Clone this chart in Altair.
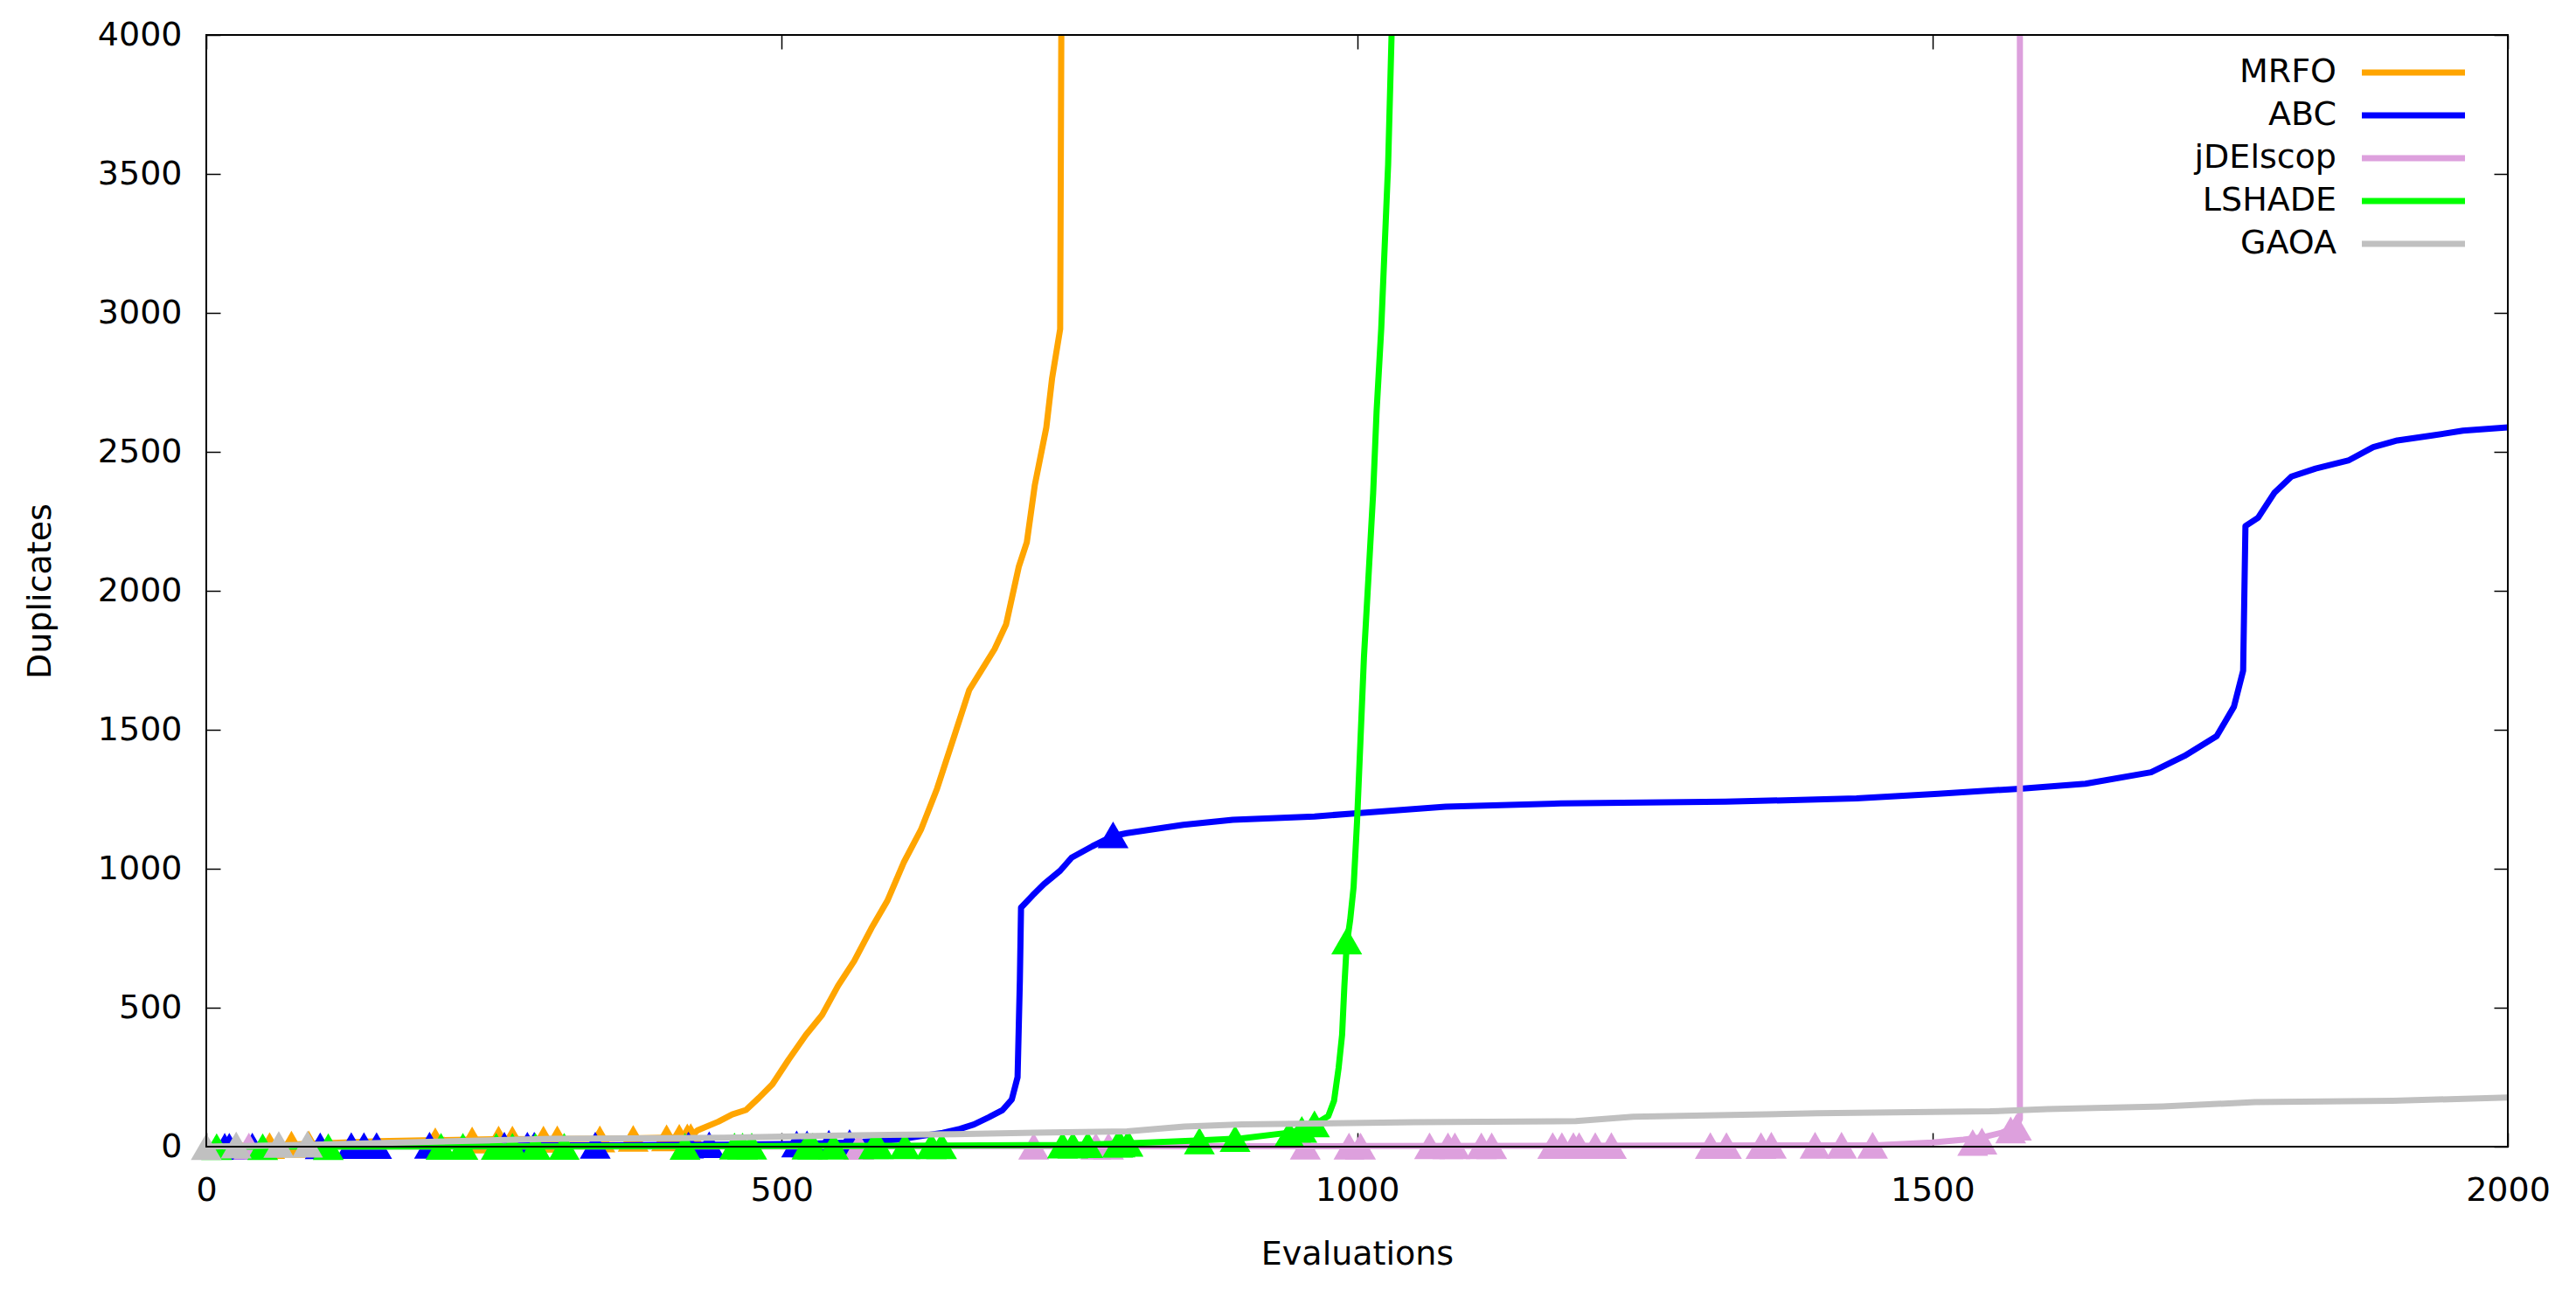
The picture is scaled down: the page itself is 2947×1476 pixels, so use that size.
import altair as alt
import pandas as pd

# ---------------- data ----------------
series_names = ["MRFO", "ABC", "jDElscop", "LSHADE", "GAOA"]
series_colors = ["#FFA500", "#0000FF", "#DDA0DD", "#00FF00", "#C0C0C0"]

x_ticks = [0, 500, 1000, 1500, 2000]
y_ticks = [0, 500, 1000, 1500, 2000, 2500, 3000, 3500, 4000]
x_domain = [0, 2000]
y_domain = [0, 4000]

# MRFO line
mrfo_x = [0, 20, 55, 90, 150, 250, 350, 400, 420, 427, 445, 457, 469, 480, 492, 506, 521, 535,
          549, 563, 578, 592, 606, 621, 635, 649, 663, 685, 695, 706, 713, 720, 730, 735, 742, 743]
mrfo_y = [0, 3, 5, 10, 20, 27, 28, 32, 35, 59, 90, 116, 132, 175, 225, 313, 402, 473,
          579, 668, 786, 886, 1022, 1140, 1288, 1465, 1643, 1790, 1879, 2086, 2174, 2381, 2588, 2765, 2942, 4000]
mrfo_px = [55, 74, 89, 199, 231, 254, 266, 293, 305, 342, 371, 400, 411, 418, 421]
mrfo_py = [4, 9, 10, 21, 24, 27, 27, 27, 28, 28, 30, 32, 34, 35, 36]

# ABC line
abc_x = [0, 100, 200, 350, 450, 520, 560, 600, 640, 655, 667, 680, 692, 700, 705, 707, 708, 718, 728,
         742, 752, 770, 788, 800, 849, 892, 963, 1000, 1077, 1177, 1320, 1434, 1505, 1576, 1633, 1690,
         1719, 1747, 1762, 1770, 1772, 1783, 1797, 1812, 1833, 1862, 1883, 1904, 1933, 1961, 2000]
abc_y = [0, 3, 5, 5, 7, 10, 15, 25, 50, 64, 80, 106, 132, 170, 250, 600, 860, 904, 945,
         993, 1040, 1081, 1118, 1128, 1158, 1176, 1188, 1200, 1223, 1235, 1241, 1253, 1270, 1288, 1306, 1347,
         1406, 1477, 1583, 1713, 2233, 2263, 2352, 2411, 2440, 2470, 2517, 2541, 2558, 2576, 2588]
abc_px = [16, 20, 40, 99, 126, 137, 148, 194, 259, 279, 285, 338, 419, 437, 513, 522, 541, 559, 788]
abc_py = [1, 1, 2, 3, 4, 4, 4, 5, 5, 5, 5, 5, 6, 7, 10, 10, 12, 15, 1122]

# jDElscop line
jde_x = [0, 500, 1000, 1450, 1500, 1527, 1545, 1560, 1568, 1574, 1576, 1576]
jde_y = [0, 1, 2, 5, 15, 25, 35, 50, 65, 80, 100, 4000]
jde_px = [37, 567, 719, 773, 784, 955, 993, 1003, 1063, 1079, 1085, 1108, 1117, 1170, 1178, 1188,
          1193, 1207, 1221, 1307, 1321, 1351, 1360, 1398, 1421, 1448, 1535, 1543, 1568, 1573]
jde_py = [2, 1, 2, 2, 2, 2, 2, 2, 3, 3, 3, 3, 3, 4, 4, 4,
          4, 4, 4, 4, 4, 4, 5, 5, 5, 5, 15, 20, 60, 70]

# LSHADE line
lsh_x = [0, 300, 600, 750, 800, 860, 900, 940, 955, 965, 975, 980, 984, 987, 989, 991, 994, 997,
         1000, 1003, 1006, 1010, 1014, 1017, 1021, 1024, 1027, 1030]
lsh_y = [0, 1, 3, 6, 12, 22, 30, 50, 65, 85, 110, 165, 284, 402, 579, 727, 815, 934,
         1170, 1465, 1761, 2056, 2352, 2647, 2942, 3238, 3533, 4000]
lsh_px = [9, 49, 106, 204, 223, 252, 266, 286, 311, 416, 459, 466, 474, 522, 527, 545, 580, 584,
          607, 630, 639, 744, 753, 766, 792, 794, 801, 863, 894, 941, 952, 963, 991]
lsh_py = [0, 0, 0, 1, 1, 1, 1, 1, 1, 1, 2, 2, 2, 2, 2, 2, 3, 3,
          3, 3, 3, 6, 6, 7, 9, 10, 12, 21, 29, 45, 62, 82, 740]

# GAOA line
gaoa_x = [0, 100, 200, 300, 450, 550, 650, 720, 800, 850, 900, 1050, 1190, 1240, 1400, 1550, 1600,
          1700, 1780, 1900, 2000]
gaoa_y = [0, 8, 18, 28, 32, 40, 45, 50, 55, 72, 80, 88, 92, 108, 120, 127, 135,
          145, 160, 165, 177]
gaoa_px = [0, 26, 63, 88]
gaoa_py = [0, 6, 8, 9]

line_data = {
    "MRFO": (mrfo_x, mrfo_y), "ABC": (abc_x, abc_y), "jDElscop": (jde_x, jde_y),
    "LSHADE": (lsh_x, lsh_y), "GAOA": (gaoa_x, gaoa_y),
}
point_data = {
    "MRFO": (mrfo_px, mrfo_py), "ABC": (abc_px, abc_py), "jDElscop": (jde_px, jde_py),
    "LSHADE": (lsh_px, lsh_py), "GAOA": (gaoa_px, gaoa_py),
}

lines_df = pd.concat([
    pd.DataFrame({"series": s, "x": xs, "y": ys, "i": range(len(xs))})
    for s, (xs, ys) in line_data.items()
], ignore_index=True)
points_df = pd.concat([
    pd.DataFrame({"series": s, "x": xs, "y": ys})
    for s, (xs, ys) in point_data.items()
], ignore_index=True)
legend_df = pd.DataFrame({"series": series_names, "rank": list(range(len(series_names)))})

# ---------------- layout ----------------
W, H = 2633, 1272
TICK = 16
FONT = "DejaVu Sans"
FS = 38
LW = 7

xs = alt.Scale(domain=x_domain, nice=False, zero=False)
ys = alt.Scale(domain=y_domain, nice=False, zero=False)
cs = alt.Scale(domain=series_names, range=series_colors)

axis_bottom = alt.Axis(orient="bottom", values=x_ticks, offset=-TICK, tickSize=TICK, domain=False,
                       grid=False, labelPadding=31, titlePadding=35, format="d", labelFlush=False,
                       labelOverlap=False)
axis_left = alt.Axis(orient="left", values=y_ticks, offset=-TICK, tickSize=TICK, domain=False,
                     grid=False, labelPadding=28, titlePadding=46, format="d", labelOverlap=False)
axis_top = alt.Axis(orient="top", values=x_ticks, offset=-TICK, tickSize=TICK, domain=False,
                    grid=False, labels=False)
axis_right = alt.Axis(orient="right", values=y_ticks, offset=-TICK, tickSize=TICK, domain=False,
                      grid=False, labels=False)

layers = []
n = len(series_names)
for k, s in enumerate(series_names):
    if k == 0:
        xenc = alt.X("x:Q", scale=xs, axis=axis_bottom, title="Evaluations")
        yenc = alt.Y("y:Q", scale=ys, axis=axis_left, title="Duplicates")
    else:
        xenc = alt.X("x:Q", scale=xs, axis=None)
        yenc = alt.Y("y:Q", scale=ys, axis=None)
    line = alt.Chart(lines_df).transform_filter(alt.datum.series == s).mark_line(
        strokeWidth=LW, strokeJoin="round"
    ).encode(
        x=xenc, y=yenc,
        color=alt.Color("series:N", scale=cs, legend=None),
        order=alt.Order("i:Q"),
    )
    layers.append(line)
    if k == n - 1:
        pxenc = alt.X("x:Q", scale=xs, axis=axis_top, title="")
        pyenc = alt.Y("y:Q", scale=ys, axis=axis_right, title="")
    else:
        pxenc = alt.X("x:Q", scale=xs, axis=None)
        pyenc = alt.Y("y:Q", scale=ys, axis=None)
    pts = alt.Chart(points_df).transform_filter(alt.datum.series == s).mark_point(
        shape="triangle-up", filled=True, size=1250, opacity=1, strokeWidth=0
    ).encode(
        x=pxenc, y=pyenc,
        color=alt.Color("series:N", scale=cs, legend=None),
    )
    layers.append(pts)

# gnuplot-style key: label right-aligned, line sample to its right
leg_text = alt.Chart(legend_df).transform_calculate(ly="43 + 49*datum.rank").mark_text(
    align="right", baseline="middle", fontSize=FS, font=FONT, color="black"
).encode(
    x=alt.value(2437),
    y=alt.Y("ly:Q", scale=None, axis=None),
    text="series:N",
)
leg_line = alt.Chart(legend_df).transform_calculate(ly="43 + 49*datum.rank").mark_rule(
    strokeWidth=LW
).encode(
    x=alt.value(2466), x2=alt.value(2584),
    y=alt.Y("ly:Q", scale=None, axis=None),
    color=alt.Color("series:N", scale=cs, legend=None),
)
layers += [leg_text, leg_line]

border = alt.Chart(pd.DataFrame({"b": [0]})).mark_rect(
    fillOpacity=0, stroke="black", strokeWidth=2
).encode(
    x=alt.XDatum(x_domain[0], axis=None), x2=alt.X2Datum(x_domain[1]),
    y=alt.YDatum(y_domain[0], axis=None), y2=alt.Y2Datum(y_domain[1]),
)
layers.append(border)

chart = alt.layer(*layers).properties(
    width=W, height=H,
    autosize=alt.AutoSizeParams(type="none"),
    padding={"left": 228, "top": 32, "right": 50, "bottom": 150},
    background="white",
).resolve_axis(
    x="independent", y="independent"
).configure(
    font=FONT
).configure_view(
    strokeWidth=0
).configure_axis(
    labelFont=FONT, labelFontSize=FS, titleFont=FONT, titleFontSize=FS,
    titleFontWeight="normal", labelColor="black", titleColor="black",
    tickColor="black", tickWidth=1.5,
)

chart.save("out.html", embed_options={"renderer": "svg", "actions": False})
